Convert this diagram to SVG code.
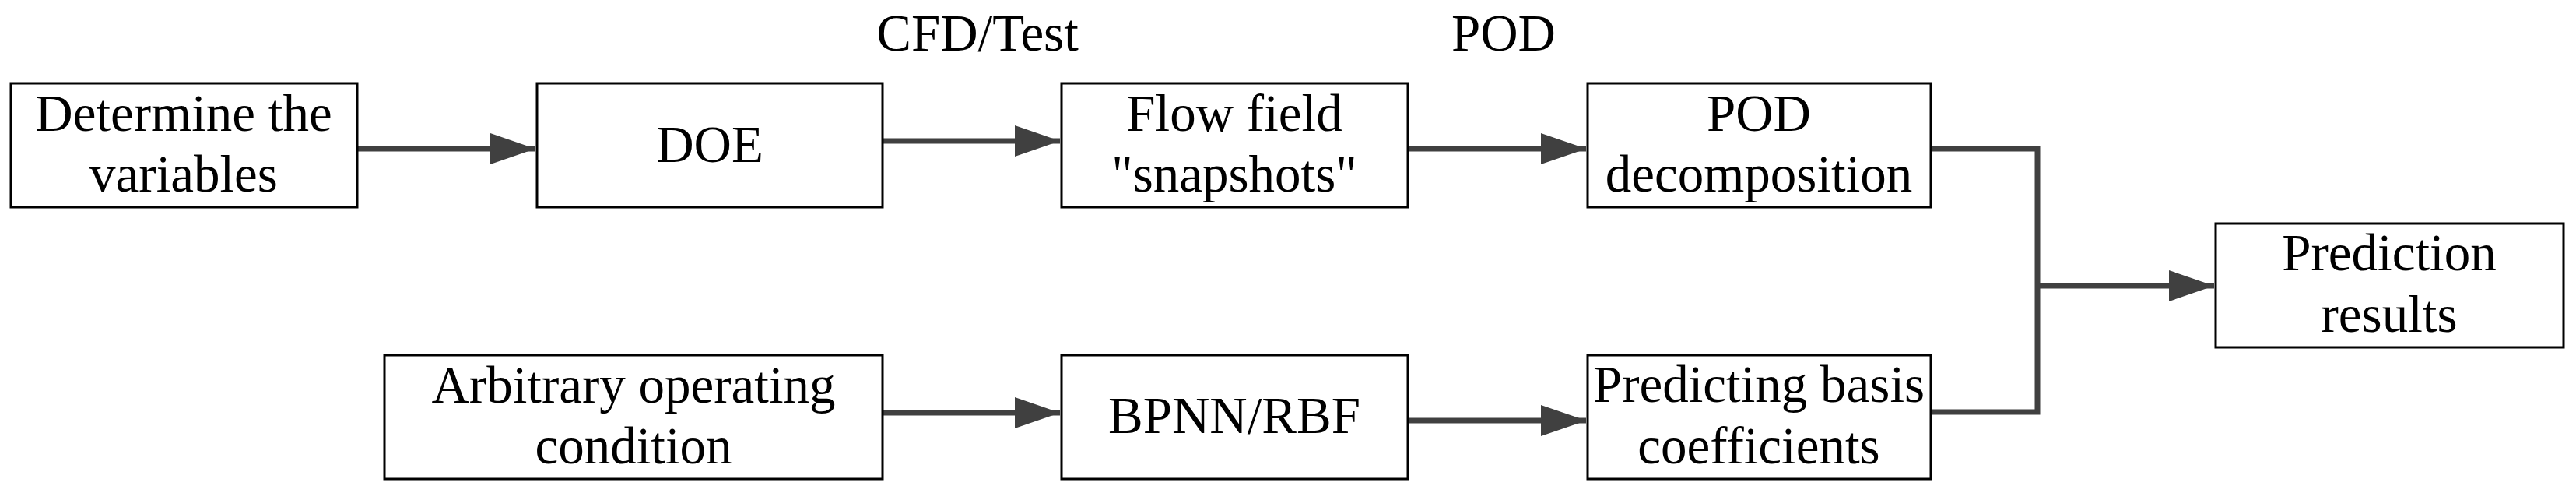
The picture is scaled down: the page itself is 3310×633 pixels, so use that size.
<svg xmlns="http://www.w3.org/2000/svg" width="3310" height="633" viewBox="0 0 3310 633">
<style>
rect{fill:#fff;stroke:#000;stroke-width:3}
text{font-family:"Liberation Serif","Times New Roman",serif;font-size:67px;text-anchor:middle;fill:#000}
.c{stroke:#404040;stroke-width:7;fill:none}
</style>
<defs><marker id="a" markerUnits="userSpaceOnUse" markerWidth="60" markerHeight="40" refX="58" refY="20" orient="auto"><path d="M0,0L58,20L0,40Z" fill="#404040"/></marker></defs>
<g id="connectors">
<path class="c" d="M459,191H688" marker-end="url(#a)"/>
<path class="c" d="M1134,181H1362" marker-end="url(#a)"/>
<path class="c" d="M1809,191H2038" marker-end="url(#a)"/>
<path class="c" d="M1134,530H1362" marker-end="url(#a)"/>
<path class="c" d="M1809,540H2038" marker-end="url(#a)"/>
<path class="c" d="M2481,191H2618V529H2481"/>
<path class="c" d="M2618,367H2845" marker-end="url(#a)"/>
<text x="1256" y="65">CFD/Test</text>
<text x="1932" y="65">POD</text>
</g>
<g id="n1"><rect x="14" y="107" width="445" height="159"/><text x="236" y="168">Determine the</text><text x="236" y="246">variables</text></g>
<g id="n2"><rect x="690" y="107" width="444" height="159"/><text x="912" y="208">DOE</text></g>
<g id="n3"><rect x="1364" y="107" width="445" height="159"/><text x="1586" y="168">Flow field</text><text x="1586" y="246">"snapshots"</text></g>
<g id="n4"><rect x="2040" y="107" width="441" height="159"/><text x="2260" y="168">POD</text><text x="2260" y="246">decomposition</text></g>
<g id="n5"><rect x="494" y="456" width="640" height="159"/><text x="814" y="517">Arbitrary operating</text><text x="814" y="595">condition</text></g>
<g id="n6"><rect x="1364" y="456" width="445" height="159"/><text x="1586" y="556">BPNN/RBF</text></g>
<g id="n7"><rect x="2040" y="456" width="441" height="159"/><text x="2260" y="516">Predicting basis</text><text x="2260" y="595">coefficients</text></g>
<g id="n8"><rect x="2847" y="287" width="447" height="159"/><text x="3070" y="347">Prediction</text><text x="3070" y="426">results</text></g>
</svg>
